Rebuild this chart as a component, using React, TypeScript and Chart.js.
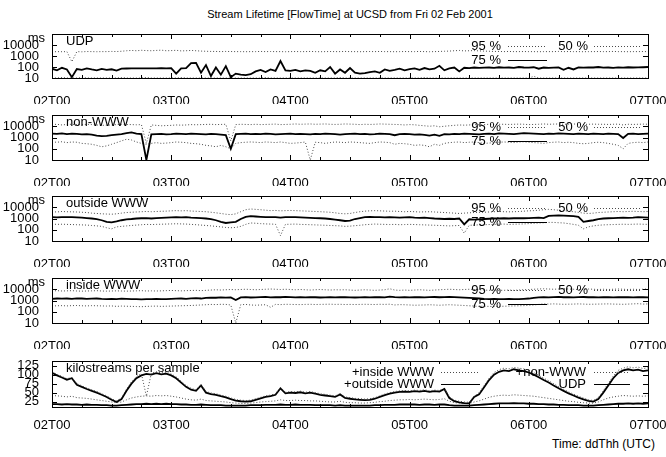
import React, { useEffect, useRef } from 'react';
import { Chart, registerables } from 'chart.js';

Chart.register(...registerables);

const FONT = '"Liberation Sans", Arial, Helvetica, sans-serif';

// time axis: hours since Fri 02 Feb 2001 00:00 UTC
const hours = Array.from({ length: 121 }, (_, i) => i);
const xTickValues = [0, 24, 48, 72, 96, 120];
const xTickLabels = ['02T00', '03T00', '04T00', '05T00', '06T00', '07T00'];
const xMinorTicks = [0, 6, 12, 18, 24, 30, 36, 42, 48, 54, 60, 66, 72, 78, 84, 90, 96, 102, 108, 114, 120];

const logTickValues = [10, 100, 1000, 10000];
const logTickLabels = ['10', '100', '1000', '10000'];
const logUnit = 'ms';
const linTickValues = [25, 50, 75, 100, 125];
const linTickLabels = ['25', '50', '75', '100', '125'];

const chartTitle = 'Stream Lifetime [FlowTime] at UCSD from Fri 02 Feb 2001';
const xAxisTitle = 'Time: ddThh (UTC)';

// ---- UDP (ms) ----
const udp95 = [2400, 2500, 2450, 2500, 300, 2500, 2400, 2550, 2500, 2450, 2500,
  2500, 2600, 2550, 2700, 3000, 3200, 3000, 3300, 3100, 3000,
  3200, 3400, 3000, 3100, 3300, 2900, 3000, 3200, 3000, 2800,
  2700, 2600, 2600, 2500, 2600, 2550, 2500, 2500, 2450, 2500,
  2500, 2600, 2500, 2550, 2500, 2500, 2450, 2500, 2550, 2500,
  2500, 2600, 2500, 2450, 2500, 2550, 2500, 2500, 2600, 2500,
  2500, 2450, 2500, 2550, 2500, 2600, 2500, 2500, 2450, 2500,
  2550, 2500, 2500, 2600, 2500, 2450, 2500, 2600, 2700, 2800,
  3000, 3200, 2900, 3000, 3100, 2900, 2800, 2700, 2600, 2600,
  2500, 2600, 2500, 2500, 2550, 2500, 2500, 2450, 2500, 2500,
  2500, 2600, 2500, 2550, 2500, 2500, 2450, 2500, 2500, 2550,
  2500, 2500, 2600, 2500, 2500, 2450, 2500, 2500, 2550, 2500];
const udp75 = [70, 50, 85, 60, 12, 65, 55, 75, 60, 50, 68,
  55, 62, 48, 72, 73, 74, 75, 75, 76, 75,
  76, 77, 75, 80, 25, 75, 80, 230, 240, 30,
  150, 15, 90, 20, 120, 12, 25, 20, 18, 22,
  40, 55, 35, 60, 45, 350, 50, 45, 55, 40,
  50, 45, 30, 50, 40, 100, 25, 60, 30, 80,
  30, 25, 28, 35, 40, 30, 60, 45, 55, 70,
  50, 65, 75, 55, 80, 60, 70, 130, 50, 75,
  90, 40, 85, 80, 90, 85, 88, 90, 85, 95,
  88, 90, 85, 100, 90, 88, 95, 70, 90, 85,
  88, 90, 55, 85, 60, 90, 88, 92, 90, 100,
  88, 90, 85, 92, 88, 95, 90, 92, 95, 100];
const udp50 = [10, 10, 11, 10, 10, 10, 11, 10, 10, 10, 10,
  10, 10, 10, 11, 10, 10, 10, 10, 11, 10,
  10, 10, 10, 10, 10, 11, 10, 10, 10, 10,
  10, 10, 10, 10, 10, 10, 10, 10, 10, 10,
  10, 10, 11, 10, 10, 10, 10, 10, 10, 10,
  10, 10, 10, 10, 10, 10, 10, 11, 10, 10,
  10, 10, 10, 10, 10, 10, 10, 10, 10, 10,
  10, 10, 10, 10, 11, 10, 10, 10, 10, 10,
  10, 10, 10, 10, 10, 10, 10, 10, 10, 10,
  10, 10, 10, 10, 10, 10, 14, 10, 10, 10,
  10, 10, 10, 10, 10, 10, 10, 10, 10, 10,
  10, 10, 10, 10, 10, 10, 10, 10, 10, 10];

// ---- non-WWW (ms) ----
const non95 = [14000, 15000, 13000, 14500, 15000, 14000, 13500, 15000, 14000, 13000, 12000,
  12500, 13000, 14000, 15000, 14500, 14000, 13500, 14000, 300, 13000,
  12000, 11000, 11500, 12000, 13000, 12500, 13000, 14000, 13500, 14000,
  14500, 15000, 14000, 14500, 15000, 500, 14000, 15000, 14500, 14000,
  15000, 14000, 14500, 15000, 15500, 14000, 14500, 15000, 16000, 15000,
  15500, 16000, 15000, 15500, 16000, 15000, 14500, 15000, 16000, 15500,
  15000, 14000, 15000, 14500, 15000, 16000, 15500, 15000, 14500, 14000,
  13000, 14000, 13500, 12000, 11000, 10000, 11000, 9000, 10000, 11000,
  12000, 13000, 12500, 13000, 14000, 13500, 14000, 15000, 14500, 15000,
  15000, 14500, 15000, 15500, 15000, 14000, 14500, 15000, 16000, 15000,
  15500, 16000, 15000, 15500, 16000, 15000, 14500, 15000, 15500, 15000,
  15000, 14500, 15000, 15500, 13000, 15000, 14500, 15000, 15500, 15000];
const non75 = [2200, 2100, 2300, 2000, 2200, 2100, 1900, 2000, 1800, 1500, 1300,
  1400, 1600, 1800, 2000, 2400, 2800, 2200, 2000, 10, 1900,
  2000, 2100, 1900, 2000, 2200, 2100, 2000, 2200, 2100, 2000,
  1900, 2100, 2000, 1800, 1600, 100, 2000, 2100, 2200, 2000,
  2100, 2000, 2200, 2100, 1900, 2000, 2100, 2200, 2000, 2100,
  2000, 1900, 2100, 2000, 2200, 2100, 2000, 1800, 2000, 2100,
  2200, 2000, 2100, 1900, 2000, 2200, 2100, 2000, 1600, 2000,
  2100, 2000, 1800, 1900, 1700, 1500, 1800, 1400, 2000, 1900,
  2100, 2000, 2200, 2100, 2000, 1900, 2100, 2200, 2000, 2300,
  2200, 2100, 2000, 2200, 2400, 2300, 2200, 2100, 2000, 2200,
  2100, 2300, 2200, 2100, 2000, 2200, 2100, 2000, 2200, 2100,
  2000, 2200, 2100, 2000, 900, 2100, 2200, 2000, 2100, 2200];
const non50 = [400, 380, 420, 350, 400, 380, 300, 280, 250, 200, 150,
  180, 250, 350, 500, 700, 600, 400, 300, 250, 300,
  350, 300, 320, 350, 400, 380, 350, 300, 280, 250,
  200, 180, 150, 200, 150, 100, 300, 350, 380, 400,
  380, 350, 400, 380, 350, 400, 350, 300, 320, 350,
  400, 10, 380, 350, 300, 350, 400, 380, 350, 400,
  380, 350, 320, 300, 350, 400, 380, 350, 250, 300,
  280, 250, 200, 220, 200, 150, 250, 200, 300, 350,
  380, 400, 350, 380, 400, 350, 300, 320, 350, 380,
  400, 380, 350, 400, 420, 380, 350, 330, 300, 350,
  380, 400, 350, 380, 350, 300, 280, 300, 350, 380,
  350, 300, 250, 200, 100, 300, 350, 380, 350, 400];

// ---- outside WWW (ms) ----
const out95 = [4000, 3800, 4200, 4000, 3900, 3800, 3600, 3400, 3000, 2800, 2600,
  2500, 2400, 2600, 3000, 3400, 3600, 3800, 4000, 4200, 4000,
  4200, 4400, 4500, 4800, 5000, 4800, 5000, 4600, 4400, 4200,
  4000, 3600, 3200, 2800, 2400, 2200, 2600, 4000, 6000, 7000,
  6500, 6000, 5500, 5000, 5200, 4800, 5000, 5200, 5000, 4800,
  4600, 4400, 4200, 4000, 3800, 3600, 3200, 2800, 2600, 2800,
  3400, 4000, 4500, 4800, 5000, 4800, 4600, 4400, 4500, 4200,
  4000, 4200, 4000, 3800, 3900, 4000, 3800, 3600, 3400, 3200,
  3000, 2800, 3000, 3200, 3400, 3500, 3600, 3800, 4000, 4200,
  4000, 3900, 4000, 4200, 4500, 4800, 5000, 5500, 6000, 6500,
  6000, 5500, 5000, 4500, 4000, 3500, 3000, 2800, 3000, 3400,
  3600, 3800, 4000, 4200, 4000, 4200, 4400, 4200, 4000, 4200];
const out75 = [1300, 1250, 1300, 1350, 1300, 1250, 1200, 1100, 1000, 900, 700,
  500, 450, 550, 700, 850, 900, 1000, 1050, 1100, 1000,
  1100, 1150, 1200, 1250, 1300, 1250, 1300, 1200, 1150, 1100,
  1000, 900, 700, 500, 400, 450, 500, 900, 1400, 1600,
  1500, 1400, 1300, 1350, 1300, 1200, 1300, 1350, 1300, 1250,
  1200, 1150, 1100, 1050, 1000, 900, 800, 700, 600, 650,
  900, 1100, 1300, 1400, 1350, 1300, 1250, 1300, 1250, 1200,
  1250, 1300, 1200, 1150, 1200, 1100, 1000, 950, 900, 950,
  900, 1000, 300, 850, 800, 850, 900, 950, 1000, 1000,
  1050, 1000, 1050, 1100, 1050, 1100, 1150, 1200, 1100, 1700,
  1800, 1900, 1800, 1700, 1600, 1400, 500, 600, 700, 900,
  1000, 1050, 1100, 1150, 1200, 1150, 1200, 1300, 1250, 1200];
const out50 = [320, 300, 310, 300, 290, 280, 270, 260, 240, 220, 200,
  150, 120, 180, 200, 220, 240, 260, 280, 300, 290,
  300, 310, 320, 330, 340, 330, 320, 300, 280, 260,
  240, 220, 200, 180, 160, 150, 160, 200, 300, 400,
  380, 350, 330, 320, 310, 30, 300, 310, 320, 300,
  290, 280, 270, 260, 250, 240, 230, 220, 200, 210,
  230, 250, 280, 300, 320, 310, 300, 290, 300, 280,
  290, 300, 290, 280, 270, 260, 250, 240, 230, 220,
  230, 240, 50, 250, 260, 270, 280, 290, 300, 310,
  320, 300, 310, 320, 330, 350, 380, 400, 420, 450,
  450, 420, 400, 350, 300, 250, 120, 180, 220, 250,
  270, 280, 290, 300, 310, 300, 310, 320, 310, 300];

// ---- inside WWW (ms) ----
const in95 = [7000, 7500, 7000, 7200, 7500, 7000, 6800, 7000, 7200, 7500, 7000,
  6800, 7000, 7200, 7000, 6800, 7000, 7200, 7500, 7000, 7200,
  7000, 7200, 7500, 7800, 7500, 7200, 7500, 7800, 8000, 7500,
  8000, 8500, 9000, 8500, 9000, 9500, 9000, 9500, 10000, 9500,
  9000, 9500, 10000, 10500, 10000, 9500, 10000, 9500, 9000, 9500,
  9000, 8500, 9000, 9500, 9000, 8500, 9000, 8800, 9000, 8500,
  8000, 8500, 9000, 8500, 8000, 8500, 9000, 11000, 8500, 8000,
  8500, 8000, 8500, 9000, 8500, 8000, 8500, 9000, 9500, 10000,
  9500, 9000, 9500, 10000, 9500, 9000, 8500, 8000, 8500, 8000,
  8000, 8500, 8000, 8500, 9000, 9500, 10000, 10500, 11000, 10500,
  10000, 10500, 11000, 10500, 10000, 9500, 10000, 10500, 10000, 9500,
  10000, 9500, 10000, 10500, 10000, 9500, 10000, 9500, 10000, 10500];
const in75 = [1400, 1500, 1450, 1500, 1400, 1550, 1500, 1400, 1450, 1500, 1400,
  1350, 1400, 1300, 1450, 1400, 1350, 1300, 1250, 1300, 1350,
  1400, 1350, 1300, 1400, 1450, 1500, 1400, 1550, 1600, 1500,
  1700, 1800, 1750, 1900, 1800, 1850, 1100, 1900, 2000, 1850,
  1900, 2000, 2100, 1900, 2000, 1950, 2100, 2000, 1900, 2000,
  1900, 2000, 1950, 1850, 1900, 2000, 1900, 1950, 2000, 1900,
  1850, 1900, 2000, 1900, 1950, 2000, 1900, 2200, 2000, 1900,
  1950, 1900, 2000, 1950, 1900, 2000, 2050, 1950, 2000, 2100,
  2000, 1900, 1800, 1700, 1600, 1500, 1400, 1350, 1400, 1300,
  1350, 1400, 1350, 1300, 1400, 1500, 1700, 1900, 2000, 1900,
  2000, 2100, 1950, 2000, 1900, 2000, 2050, 1950, 2000, 1900,
  2000, 1950, 1900, 2000, 1950, 2000, 1900, 1950, 2000, 1900];
const in50 = [320, 340, 350, 330, 350, 360, 340, 330, 350, 340, 330,
  320, 330, 300, 320, 310, 300, 290, 280, 300, 310,
  320, 300, 310, 320, 330, 340, 350, 360, 380, 400,
  420, 450, 430, 460, 450, 400, 10, 420, 450, 400,
  380, 400, 420, 250, 450, 430, 460, 450, 440, 430,
  450, 460, 440, 450, 460, 470, 450, 460, 440, 450,
  440, 450, 460, 450, 440, 460, 450, 470, 400, 430,
  420, 400, 380, 390, 400, 420, 400, 380, 400, 420,
  400, 380, 360, 340, 320, 300, 310, 300, 290, 300,
  310, 320, 330, 340, 350, 380, 400, 450, 500, 480,
  500, 480, 460, 470, 480, 500, 480, 460, 470, 480,
  490, 500, 480, 470, 460, 480, 500, 520, 480, 500];

// ---- kilostreams per sample (cumulative) ----
const kInside = [108, 101, 95, 89, 92, 75, 69, 63, 58, 53, 47,
  41, 33, 27, 36, 60, 80, 95, 103, 40, 104,
  108, 105, 107, 102, 94, 82, 70, 62, 58, 72,
  53, 49, 47, 43, 40, 35, 31, 29, 28, 29,
  33, 37, 41, 43, 47, 64, 51, 53, 52, 54,
  51, 53, 50, 47, 45, 43, 41, 47, 38, 36,
  34, 33, 32, 33, 36, 41, 46, 50, 53, 55,
  56, 55, 57, 56, 58, 55, 57, 56, 62, 38,
  29, 26, 24, 23, 40, 50, 70, 90, 106, 114,
  118, 116, 120, 118, 116, 112, 106, 98, 90, 83,
  75, 67, 59, 52, 46, 40, 35, 30, 28, 36,
  55, 76, 96, 112, 118, 122, 119, 121, 117, 119];
const kOutside = [105, 98, 92, 86, 90, 72, 66, 60, 55, 50, 44,
  38, 30, 24, 32, 55, 75, 90, 98, 102, 100,
  104, 101, 103, 98, 90, 78, 66, 58, 55, 70,
  50, 46, 44, 40, 37, 32, 28, 26, 25, 26,
  30, 34, 38, 40, 44, 62, 48, 50, 49, 51,
  48, 50, 47, 44, 42, 40, 38, 45, 35, 33,
  31, 30, 29, 30, 33, 38, 43, 47, 50, 52,
  53, 52, 54, 53, 55, 52, 54, 53, 60, 35,
  26, 23, 21, 20, 38, 45, 65, 85, 100, 108,
  112, 110, 115, 112, 110, 106, 100, 93, 85, 78,
  70, 62, 55, 48, 42, 36, 31, 27, 25, 32,
  50, 70, 90, 105, 112, 115, 112, 114, 110, 112];
const kNonWww = [42, 41, 40, 38, 40, 36, 35, 34, 32, 30, 28,
  26, 24, 22, 24, 30, 35, 38, 40, 41, 40,
  42, 41, 42, 40, 38, 35, 32, 30, 29, 32,
  28, 27, 26, 25, 24, 22, 21, 20, 20, 21,
  22, 24, 25, 26, 27, 30, 28, 28, 29, 28,
  28, 27, 27, 26, 25, 24, 24, 26, 23, 22,
  22, 21, 21, 22, 23, 25, 26, 28, 29, 30,
  30, 31, 30, 31, 32, 31, 30, 31, 33, 26,
  22, 21, 20, 20, 24, 27, 32, 37, 40, 42,
  43, 42, 44, 43, 42, 41, 40, 38, 36, 34,
  32, 30, 28, 26, 25, 23, 22, 21, 21, 24,
  30, 35, 38, 40, 42, 41, 40, 41, 40, 41];
const kUdp = [18, 18, 17, 18, 17, 17, 16, 17, 16, 16, 15,
  15, 14, 14, 15, 16, 17, 18, 18, 19, 18,
  19, 18, 19, 18, 18, 17, 17, 16, 16, 17,
  16, 15, 15, 15, 14, 14, 14, 14, 14, 15,
  15, 15, 16, 16, 16, 17, 16, 16, 17, 16,
  16, 16, 15, 15, 15, 15, 14, 15, 14, 14,
  14, 14, 14, 14, 15, 15, 16, 16, 16, 17,
  17, 17, 17, 16, 17, 17, 16, 17, 17, 15,
  14, 14, 14, 14, 15, 16, 17, 18, 19, 20,
  20, 20, 21, 20, 20, 19, 19, 18, 18, 17,
  17, 16, 16, 15, 15, 15, 14, 14, 14, 15,
  16, 17, 18, 19, 19, 20, 19, 20, 19, 20];

type SeriesDef = { label: string; values: number[]; dotted: boolean; key: [number, number] };
type PanelDef = {
  name: string; top: number; bottom: number; log: boolean; min: number; max: number;
  series: SeriesDef[]; keyCols: { textRight: number; x0: number; x1: number }[]; keyRows: number[];
  labelPad: number;
};

const pctKeyCols = [{ textRight: 501, x0: 508, x1: 547 }, { textRight: 588, x0: 594, x1: 640 }];
const pctKeyRows = [12, 26];

const panels: PanelDef[] = [
  { name: 'UDP', top: 34, bottom: 78, log: true, min: 10, max: 100000, labelPad: 8,
    series: [
      { label: '95 %', values: udp95, dotted: true, key: [0, 0] },
      { label: '75 %', values: udp75, dotted: false, key: [0, 1] },
      { label: '50 %', values: udp50, dotted: true, key: [1, 0] }],
    keyCols: pctKeyCols, keyRows: pctKeyRows },
  { name: 'non-WWW', top: 115, bottom: 160, log: true, min: 10, max: 100000, labelPad: 8,
    series: [
      { label: '95 %', values: non95, dotted: true, key: [0, 0] },
      { label: '75 %', values: non75, dotted: false, key: [0, 1] },
      { label: '50 %', values: non50, dotted: true, key: [1, 0] }],
    keyCols: pctKeyCols, keyRows: pctKeyRows },
  { name: 'outside WWW', top: 196, bottom: 241, log: true, min: 10, max: 100000, labelPad: 8,
    series: [
      { label: '95 %', values: out95, dotted: true, key: [0, 0] },
      { label: '75 %', values: out75, dotted: false, key: [0, 1] },
      { label: '50 %', values: out50, dotted: true, key: [1, 0] }],
    keyCols: pctKeyCols, keyRows: pctKeyRows },
  { name: 'inside WWW', top: 278, bottom: 323, log: true, min: 10, max: 100000, labelPad: 8,
    series: [
      { label: '95 %', values: in95, dotted: true, key: [0, 0] },
      { label: '75 %', values: in75, dotted: false, key: [0, 1] },
      { label: '50 %', values: in50, dotted: true, key: [1, 0] }],
    keyCols: pctKeyCols, keyRows: pctKeyRows },
  { name: 'kilostreams per sample', top: 361, bottom: 407, log: false, min: 10, max: 138, labelPad: 3,
    series: [
      { label: '+inside WWW', values: kInside, dotted: true, key: [0, 0] },
      { label: '+outside WWW', values: kOutside, dotted: false, key: [0, 1] },
      { label: '+non-WWW', values: kNonWww, dotted: true, key: [1, 0] },
      { label: 'UDP', values: kUdp, dotted: false, key: [1, 1] }],
    keyCols: [{ textRight: 434, x0: 441, x1: 480 }, { textRight: 586, x0: 594, x1: 630 }], keyRows: [11, 23] },
];

const PAD_TOP = 14;
const X_AXIS_H = 26;
const Y_AXIS_W = 52;
const PAD_RIGHT = 18;
const TXT = 13;

const DOT_COLOR = '#4a4a4a';

const framePlugin = {
  id: 'gnuframe',
  afterDraw(chart: any, _args: any, opts: any) {
    const { ctx, chartArea: a, scales } = chart;
    const p: PanelDef = opts.panel;
    ctx.save();
    ctx.strokeStyle = '#000';
    ctx.lineWidth = 1;
    const L = Math.round(a.left), T = Math.round(a.top), R = Math.round(a.right), B = Math.round(a.bottom);
    ctx.strokeRect(L + 0.5, T + 0.5, R - L, B - T);
    ctx.beginPath();
    for (const h of xMinorTicks) {
      const px = Math.round(scales.x.getPixelForValue(h)) + 0.5;
      const len = h % 24 === 0 ? 5 : 3;
      ctx.moveTo(px, B); ctx.lineTo(px, B - len);
      ctx.moveTo(px, T); ctx.lineTo(px, T + len);
    }
    const yt = p.log ? logTickValues : linTickValues;
    for (const v of yt) {
      const py = Math.round(scales.y.getPixelForValue(v)) + 0.5;
      ctx.moveTo(L, py); ctx.lineTo(L + 5, py);
      ctx.moveTo(R, py); ctx.lineTo(R - 5, py);
    }
    ctx.stroke();

    ctx.fillStyle = '#000';
    ctx.font = `${TXT}px ${FONT}`;
    ctx.textBaseline = 'middle';
    if (p.log) {
      ctx.textAlign = 'right';
      ctx.fillText(logUnit, L - 7, scales.y.getPixelForValue(10000) - 7);
    }
    ctx.textAlign = 'left';
    ctx.fillText(p.name, L + 14, T + 7);

    chart.data.datasets.forEach((ds: any, i: number) => {
      const s = p.series[i];
      const col = p.keyCols[s.key[0]];
      const y = T + p.keyRows[s.key[1]];
      ctx.textAlign = 'right';
      ctx.fillStyle = '#000';
      ctx.fillText(ds.label, col.textRight, y);
      ctx.beginPath();
      ctx.strokeStyle = ds.borderColor;
      ctx.lineWidth = s.dotted ? 1 : 1.2;
      ctx.setLineDash(ds.borderDash || []);
      ctx.moveTo(col.x0, Math.round(y) + 0.5);
      ctx.lineTo(col.x1, Math.round(y) + 0.5);
      ctx.stroke();
      ctx.setLineDash([]);
    });
    ctx.restore();
  },
};

function PanelChart({ p }: { p: PanelDef }) {
  const ref = useRef<HTMLCanvasElement | null>(null);
  const height = p.bottom - p.top + PAD_TOP + X_AXIS_H;
  useEffect(() => {
    if (!ref.current) return;
    const yVals = p.log ? logTickValues : linTickValues;
    const yLabs = p.log ? logTickLabels : linTickLabels;
    const chart = new Chart(ref.current, {
      type: 'line',
      data: {
        datasets: p.series.map((s) => ({
          label: s.label,
          data: s.values.map((v, i) => ({ x: hours[i], y: v })),
          borderColor: s.dotted ? DOT_COLOR : '#000',
          borderWidth: s.dotted ? 1 : 1.8,
          borderDash: s.dotted ? [1, 2] : [],
          pointRadius: 0,
          tension: 0,
          fill: false,
        })),
      },
      options: {
        animation: false,
        responsive: false,
        devicePixelRatio: 1,
        events: [],
        layout: { padding: { top: PAD_TOP, right: PAD_RIGHT, bottom: 0, left: 0 }, autoPadding: false },
        plugins: {
          legend: { display: false },
          tooltip: { enabled: false },
          title: { display: false },
          gnuframe: { panel: p },
        } as any,
        scales: {
          x: {
            type: 'linear', min: 0, max: 120,
            grid: { display: false }, border: { display: false },
            afterBuildTicks: (s: any) => { s.ticks = xTickValues.map((v) => ({ value: v })); },
            afterFit: (s: any) => { s.height = X_AXIS_H; s.paddingLeft = 0; s.paddingRight = 0; },
            ticks: {
              autoSkip: false, maxRotation: 0, padding: p.labelPad, color: '#000',
              font: { family: FONT, size: TXT },
              callback: (_v: any, i: number) => xTickLabels[i],
            },
          },
          y: {
            type: p.log ? 'logarithmic' : 'linear', min: p.min, max: p.max,
            grid: { display: false }, border: { display: false },
            afterBuildTicks: (s: any) => { s.ticks = yVals.map((v) => ({ value: v })); },
            afterFit: (s: any) => { s.width = Y_AXIS_W; s.paddingTop = 0; s.paddingBottom = 0; },
            ticks: {
              autoSkip: false, padding: 5, color: '#000',
              font: { family: FONT, size: TXT },
              callback: (_v: any, i: number) => yLabs[i],
            },
          },
        } as any,
      },
      plugins: [framePlugin],
    });
    return () => chart.destroy();
  }, [p]);
  return (
    <canvas
      ref={ref}
      width={666}
      height={height}
      style={{ position: 'absolute', left: 0, top: p.top - PAD_TOP, width: 666, height }}
    />
  );
}

export default function App() {
  return (
    <div style={{ position: 'fixed', left: 0, top: 0, width: 666, height: 457, background: '#fff', overflow: 'hidden' }}>
      <div style={{ position: 'absolute', left: 52, width: 596, top: 7, textAlign: 'center', fontFamily: FONT, fontSize: 11, lineHeight: '14px', color: '#000' }}>
        {chartTitle}
      </div>
      {panels.map((p) => <PanelChart key={p.name} p={p} />)}
      <div style={{ position: 'absolute', right: 11, top: 437, fontFamily: FONT, fontSize: 12, lineHeight: '14px', color: '#000', whiteSpace: 'nowrap' }}>
        {xAxisTitle}
      </div>
    </div>
  );
}
